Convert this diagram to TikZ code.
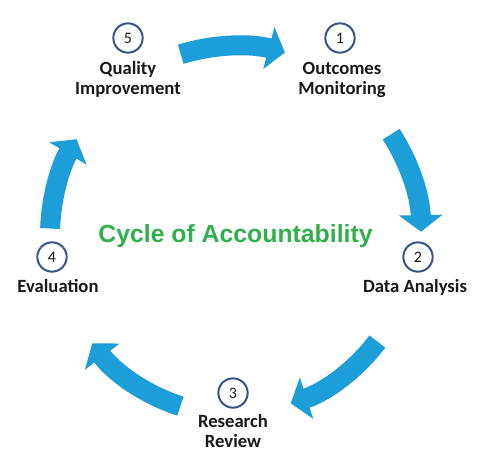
\documentclass[tikz,border=0pt]{standalone}
\usepackage{fontspec}
\setmainfont{Carlito}
\newfontfamily\titlefont{Liberation Sans}
\usetikzlibrary{arrows.meta}
\definecolor{arrowblue}{RGB}{30,158,216}
\definecolor{ringblue}{RGB}{55,85,135}
\definecolor{titlegreen}{RGB}{46,176,75}
\definecolor{labeltext}{RGB}{25,25,25}
\begin{document}
\begin{tikzpicture}[x=0.75pt,y=0.75pt,
  numcirc/.style={circle,draw=ringblue,line width=1.5pt,minimum size=22pt,inner sep=0pt,
    text=labeltext,font=\fontsize{12}{12}\selectfont},
  lbl/.style={align=center,anchor=base,text=labeltext,font=\bfseries\fontsize{14}{15}\selectfont},
  cyc/.style={draw=arrowblue,line width=15pt,-{Triangle[width=32pt,length=12.5pt]}}]
\useasboundingbox (0,0) rectangle (480,468);
\coordinate (ctr) at (236,233);
% numbered circles
\node[numcirc] (n5) at (128,430) {5};
\node[numcirc] (n1) at (340,430) {1};
\node[numcirc] (n2) at (418,211) {2};
\node[numcirc] (n3) at (233,75) {3};
\node[numcirc] (n4) at (52,211) {4};
% labels (base anchor = baseline of last line)
\node[lbl] (l5) at (128,373) {Quality\\Improvement};
\node[lbl] (l1) at (342,373) {Outcomes\\Monitoring};
\node[lbl] (l2) at (415,175) {Data Analysis};
\node[lbl] (l3) at (233,20) {Research\\Review};
\node[lbl] (l4) at (58,175) {Evaluation};
% title
\node[anchor=base,text=titlegreen,font=\titlefont\bfseries\fontsize{18.6}{20}\selectfont] (title) at (235.5,225) {Cycle of Accountability};
% cycle arrows
\draw[cyc] (ctr) ++(107:189) arc[start angle=107,end angle=75,radius=189];
\draw[cyc] (ctr) ++(33:185) arc[start angle=33,end angle=1,radius=185];
\draw[cyc] (ctr) ++(-37:177) arc[start angle=-37,end angle=-72,radius=177];
\draw[cyc] (ctr) ++(-108:180) arc[start angle=-108,end angle=-143,radius=180];
\draw[cyc] (ctr) ++(178:186) arc[start angle=178,end angle=149,radius=186];
\end{tikzpicture}
\end{document}
